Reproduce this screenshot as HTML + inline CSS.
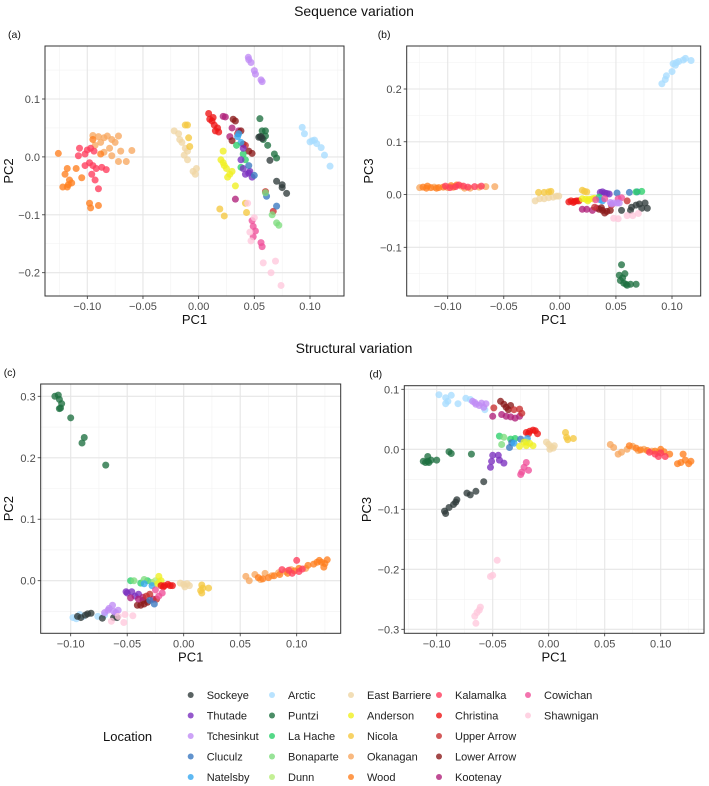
<!DOCTYPE html>
<html><head><meta charset="utf-8">
<style>
body{margin:0;background:#fff;width:709px;height:786px;overflow:hidden;font-family:"Liberation Sans",sans-serif}
svg{display:block}
</style></head>
<body>
<svg id="fig" width="709" height="786" xmlns="http://www.w3.org/2000/svg">
<text x="354" y="16" text-anchor="middle" font-size="14" fill="#111">Sequence variation</text>
<text x="354" y="353" text-anchor="middle" font-size="14" fill="#111">Structural variation</text>
</svg>
<script>
const pops=["Sockeye","Thutade","Tchesinkut","Cluculz","Natelsby","Arctic","Puntzi","La Hache","Bonaparte","Dunn","East Barriere","Anderson","Nicola","Okanagan","Wood","Kalamalka","Christina","Upper Arrow","Lower Arrow","Kootenay","Cowichan","Shawnigan"];
const popColors=["#2f3b3b","#7b2fbf","#c08cf5","#3a78c0","#36a8f0","#a8dcff","#1e7040","#2bcf6a","#7edc7e","#b5ec7a","#efd6a4","#f0f020","#f5c840","#f7a860","#ff7f1f","#ff3c5c","#ee1515","#c83030","#8b1a1a","#b0207a","#f0509a","#ffc8dc"];
const xTicks=[-0.10,-0.05,0.00,0.05,0.10];
const yTicksA=[0.1,0.0,-0.1,-0.2];
const yTicksB=[0.2,0.1,0.0,-0.1];
const yTicksC=[0.3,0.2,0.1,0.0];
const yTicksD=[0.1,0.0,-0.1,-0.2,-0.3];
const pcaA=[
["Tchesinkut",0.0446,0.172],["Tchesinkut",0.047,0.163],["Tchesinkut",0.050,0.149],["Tchesinkut",0.051,0.143],["Tchesinkut",0.056,0.133],["Tchesinkut",0.057,0.130],["Tchesinkut",0.045,0.168],
["Arctic",0.093,0.051],["Arctic",0.095,0.040],["Arctic",0.100,0.026],["Arctic",0.104,0.029],["Arctic",0.106,0.023],["Arctic",0.110,0.016],["Arctic",0.113,0.003],["Arctic",0.118,-0.016],["Arctic",0.102,0.028],
["Okanagan",-0.095,0.037],["Okanagan",-0.090,0.035],["Okanagan",-0.085,0.033],["Okanagan",-0.082,0.036],["Okanagan",-0.078,0.030],["Okanagan",-0.075,0.025],["Okanagan",-0.072,0.036],["Okanagan",-0.088,0.025],["Okanagan",-0.093,0.020],["Okanagan",-0.080,0.015],["Okanagan",-0.070,0.010],["Okanagan",-0.065,-0.008],["Okanagan",-0.060,0.011],["Okanagan",-0.072,-0.008],["Okanagan",-0.085,0.008],["Okanagan",-0.078,0.002],
["Wood",-0.126,0.006],["Wood",-0.118,-0.020],["Wood",-0.120,-0.030],["Wood",-0.116,-0.040],["Wood",-0.117,-0.048],["Wood",-0.122,-0.052],["Wood",-0.118,-0.052],["Wood",-0.114,-0.045],["Wood",-0.110,-0.020],["Wood",-0.105,-0.036],["Wood",-0.098,-0.080],["Wood",-0.097,-0.088],["Wood",-0.090,-0.084],["Wood",-0.088,0.005],["Wood",-0.095,0.030],
["Kalamalka",-0.107,0.015],["Kalamalka",-0.108,0.002],["Kalamalka",-0.100,0.012],["Kalamalka",-0.102,-0.015],["Kalamalka",-0.098,-0.010],["Kalamalka",-0.095,-0.015],["Kalamalka",-0.092,-0.020],["Kalamalka",-0.087,-0.018],["Kalamalka",-0.083,-0.022],["Kalamalka",-0.090,-0.055],["Kalamalka",-0.093,-0.040],["Kalamalka",-0.096,-0.030],["Kalamalka",-0.102,0.005],["Kalamalka",-0.097,0.015],["Kalamalka",-0.094,0.010],
["East Barriere",-0.022,0.045],["East Barriere",-0.018,0.040],["East Barriere",-0.015,0.025],["East Barriere",-0.012,0.015],["East Barriere",-0.010,0.010],["East Barriere",-0.013,0.003],["East Barriere",-0.010,-0.005],["East Barriere",-0.005,-0.025],["East Barriere",-0.003,-0.030],["East Barriere",-0.002,-0.020],["East Barriere",-0.017,0.030],
["Nicola",-0.012,0.055],["Nicola",-0.010,0.055],["Nicola",-0.009,0.033],["Nicola",-0.008,0.018],["Nicola",0.019,-0.090],["Nicola",0.023,-0.102],["Nicola",0.042,-0.080],["Nicola",0.043,-0.096],
["Anderson",0.020,-0.005],["Anderson",0.022,0.010],["Anderson",0.023,-0.015],["Anderson",0.025,-0.020],["Anderson",0.028,-0.030],["Anderson",0.026,-0.035],["Anderson",0.030,-0.025],["Anderson",0.033,-0.050],["Anderson",0.022,-0.010],
["Christina",0.009,0.075],["Christina",0.010,0.065],["Christina",0.012,0.062],["Christina",0.014,0.055],["Christina",0.015,0.045],["Christina",0.017,0.050],["Christina",0.013,0.068],["Christina",0.018,0.043],
["Kootenay",0.022,0.070],["Kootenay",0.024,0.069],["Kootenay",0.028,0.035],["Kootenay",0.033,-0.073],["Kootenay",0.030,0.050],["Kootenay",0.036,0.045],
["Lower Arrow",0.031,0.065],["Lower Arrow",0.033,0.062],["Lower Arrow",0.038,0.045],["Lower Arrow",0.040,0.022],["Lower Arrow",0.045,0.010],["Lower Arrow",0.048,0.006],["Lower Arrow",0.030,0.028],
["Upper Arrow",0.035,0.040],["Upper Arrow",0.042,0.020],["Upper Arrow",0.060,-0.060],["Upper Arrow",0.067,-0.094],
["Natelsby",0.036,0.040],["Natelsby",0.038,0.025],["Natelsby",0.035,0.035],
["La Hache",0.034,0.020],["La Hache",0.040,0.005],["La Hache",0.042,-0.005],["La Hache",0.038,-0.018],
["Thutade",0.040,0.015],["Thutade",0.038,-0.005],["Thutade",0.040,-0.020],["Thutade",0.042,-0.030],["Thutade",0.045,-0.028],["Thutade",0.048,-0.035],["Thutade",0.046,-0.025],
["Cluculz",0.050,-0.032],["Cluculz",0.061,-0.068],["Cluculz",0.070,-0.085],["Cluculz",0.045,-0.015],
["Puntzi",0.055,0.066],["Puntzi",0.057,0.045],["Puntzi",0.060,0.045],["Puntzi",0.058,0.030],["Puntzi",0.062,0.020],["Puntzi",0.068,0.005],["Puntzi",0.070,-0.002],["Puntzi",0.055,0.035],["Puntzi",0.060,0.036],
["Sockeye",0.056,0.035],["Sockeye",0.057,0.032],["Sockeye",0.064,-0.006],["Sockeye",0.070,-0.042],["Sockeye",0.075,-0.048],["Sockeye",0.075,-0.053],["Sockeye",0.079,-0.063],["Sockeye",0.054,0.034],
["Bonaparte",0.066,-0.100],["Bonaparte",0.070,-0.114],["Bonaparte",0.072,-0.118],["Bonaparte",0.060,-0.062],
["Cowichan",0.049,-0.120],["Cowichan",0.051,-0.128],["Cowichan",0.049,-0.138],["Cowichan",0.056,-0.148],["Cowichan",0.057,-0.155],["Cowichan",0.048,-0.110],
["Shawnigan",0.044,-0.080],["Shawnigan",0.046,-0.130],["Shawnigan",0.050,-0.105],["Shawnigan",0.058,-0.183],["Shawnigan",0.069,-0.180],["Shawnigan",0.065,-0.200],["Shawnigan",0.074,-0.222],["Shawnigan",0.047,-0.145]
];
const pcaB=[
["Okanagan",-0.125,0.013],["Okanagan",-0.112,0.014],["Okanagan",-0.100,0.013],["Okanagan",-0.088,0.016],["Okanagan",-0.080,0.012],["Okanagan",-0.072,0.014],["Okanagan",-0.066,0.015],["Okanagan",-0.058,0.015],["Okanagan",-0.085,0.012],
["Wood",-0.122,0.014],["Wood",-0.118,0.016],["Wood",-0.115,0.013],["Wood",-0.108,0.013],["Wood",-0.104,0.014],["Wood",-0.097,0.017],["Wood",-0.092,0.018],["Wood",-0.095,0.014],["Wood",-0.110,0.012],["Wood",-0.119,0.012],
["Kalamalka",-0.102,0.016],["Kalamalka",-0.098,0.013],["Kalamalka",-0.093,0.015],["Kalamalka",-0.090,0.018],["Kalamalka",-0.086,0.016],["Kalamalka",-0.082,0.014],["Kalamalka",-0.076,0.015],["Kalamalka",-0.070,0.016],
["Arctic",0.091,0.210],["Arctic",0.094,0.218],["Arctic",0.095,0.225],["Arctic",0.100,0.233],["Arctic",0.101,0.248],["Arctic",0.104,0.250],["Arctic",0.106,0.252],["Arctic",0.110,0.255],["Arctic",0.112,0.258],["Arctic",0.117,0.254],["Arctic",0.103,0.245],
["Puntzi",0.055,-0.133],["Puntzi",0.053,-0.153],["Puntzi",0.056,-0.158],["Puntzi",0.058,-0.150],["Puntzi",0.054,-0.163],["Puntzi",0.057,-0.168],["Puntzi",0.059,-0.170],["Puntzi",0.063,-0.170],["Puntzi",0.068,-0.170],["Puntzi",0.060,-0.172],
["East Barriere",-0.022,-0.012],["East Barriere",-0.018,-0.008],["East Barriere",-0.014,-0.008],["East Barriere",-0.010,-0.006],["East Barriere",-0.006,-0.005],["East Barriere",-0.003,-0.003],["East Barriere",-0.001,-0.003],
["Nicola",-0.019,0.004],["Nicola",-0.014,0.004],["Nicola",-0.010,0.005],["Nicola",-0.008,0.006],["Nicola",0.020,0.008],["Nicola",0.022,0.006],["Nicola",0.024,0.005],
["Christina",0.008,-0.014],["Christina",0.010,-0.012],["Christina",0.013,-0.013],["Christina",0.015,-0.012],["Christina",0.017,-0.012],["Christina",0.012,-0.015],
["Anderson",0.020,-0.008],["Anderson",0.023,-0.009],["Anderson",0.026,-0.009],["Anderson",0.029,-0.008],["Anderson",0.031,-0.007],["Anderson",0.025,-0.012],
["Kootenay",0.020,-0.028],["Kootenay",0.024,-0.028],["Kootenay",0.029,-0.030],["Kootenay",0.033,-0.026],
["Lower Arrow",0.035,-0.028],["Lower Arrow",0.038,-0.030],["Lower Arrow",0.042,-0.032],["Lower Arrow",0.045,-0.030],["Lower Arrow",0.040,-0.035],["Lower Arrow",0.037,-0.025],
["Upper Arrow",0.031,-0.024],["Upper Arrow",0.046,-0.020],["Upper Arrow",0.060,-0.012],
["Thutade",0.036,0.004],["Thutade",0.038,0.005],["Thutade",0.040,0.003],["Thutade",0.042,0.002],["Thutade",0.044,0.001],
["Cluculz",0.051,0.003],["Cluculz",0.062,0.004],["Cluculz",0.069,0.005],
["La Hache",0.035,-0.005],["La Hache",0.068,0.005],["La Hache",0.073,0.006],
["Natelsby",0.038,-0.012],["Natelsby",0.036,-0.010],
["Cowichan",0.032,-0.010],["Cowichan",0.040,-0.008],["Cowichan",0.052,-0.008],["Cowichan",0.055,-0.006],
["Tchesinkut",0.045,-0.015],["Tchesinkut",0.048,-0.016],["Tchesinkut",0.051,-0.016],["Tchesinkut",0.053,-0.016],["Tchesinkut",0.046,-0.018],
["Sockeye",0.055,-0.030],["Sockeye",0.063,-0.030],["Sockeye",0.064,-0.024],["Sockeye",0.068,-0.020],["Sockeye",0.071,-0.018],["Sockeye",0.076,-0.016],["Sockeye",0.078,-0.026],["Sockeye",0.073,-0.026],
["Shawnigan",0.048,-0.045],["Shawnigan",0.052,-0.046],["Shawnigan",0.060,-0.040],["Shawnigan",0.065,-0.040],["Shawnigan",0.070,-0.036]
];
const pcaC=[
["Puntzi",-0.114,0.300],["Puntzi",-0.111,0.302],["Puntzi",-0.110,0.295],["Puntzi",-0.108,0.288],["Puntzi",-0.109,0.281],["Puntzi",-0.110,0.280],["Puntzi",-0.100,0.265],["Puntzi",-0.088,0.233],["Puntzi",-0.090,0.224],["Puntzi",-0.069,0.188],
["Arctic",-0.098,-0.060],["Arctic",-0.092,-0.055],["Arctic",-0.089,-0.058],["Arctic",-0.076,-0.058],["Arctic",-0.070,-0.056],["Arctic",-0.095,-0.062],
["Sockeye",-0.094,-0.058],["Sockeye",-0.091,-0.060],["Sockeye",-0.085,-0.054],["Sockeye",-0.082,-0.053],["Sockeye",-0.072,-0.061],["Sockeye",-0.062,-0.060],["Sockeye",-0.059,-0.060],["Sockeye",-0.087,-0.056],
["Tchesinkut",-0.070,-0.052],["Tchesinkut",-0.066,-0.045],["Tchesinkut",-0.063,-0.040],["Tchesinkut",-0.062,-0.050],["Tchesinkut",-0.058,-0.048],["Tchesinkut",-0.060,-0.052],["Tchesinkut",-0.067,-0.048],
["Shawnigan",-0.064,-0.066],["Shawnigan",-0.058,-0.058],["Shawnigan",-0.053,-0.068],["Shawnigan",-0.052,-0.055],["Shawnigan",-0.045,-0.057],
["Thutade",-0.051,-0.018],["Thutade",-0.050,-0.020],["Thutade",-0.046,-0.018],["Thutade",-0.043,-0.025],["Thutade",-0.040,-0.022],
["Lower Arrow",-0.041,-0.040],["Lower Arrow",-0.038,-0.040],["Lower Arrow",-0.035,-0.038],["Lower Arrow",-0.032,-0.035],["Lower Arrow",-0.036,-0.032],
["Kootenay",-0.047,-0.028],["Kootenay",-0.040,-0.030],["Kootenay",-0.036,-0.027],["Kootenay",-0.027,-0.030],
["Upper Arrow",-0.033,-0.025],["Upper Arrow",-0.030,-0.022],["Upper Arrow",-0.024,-0.030],
["Cluculz",-0.026,-0.038],["Cluculz",-0.030,-0.032],
["La Hache",-0.047,0.000],["La Hache",-0.038,-0.004],["La Hache",-0.032,0.000],
["Bonaparte",-0.044,0.000],["Bonaparte",-0.035,0.002],["Bonaparte",-0.028,-0.003],
["Dunn",-0.022,-0.002],["Dunn",-0.025,0.000],
["Natelsby",-0.035,-0.005],["Natelsby",-0.028,-0.008],
["Anderson",-0.022,0.007],["Anderson",-0.020,0.000],["Anderson",-0.023,-0.005],
["Christina",-0.020,-0.008],["Christina",-0.017,-0.008],["Christina",-0.014,-0.006],["Christina",-0.012,-0.008],["Christina",-0.018,-0.010],["Christina",-0.010,-0.008],
["Cowichan",-0.022,-0.025],["Cowichan",-0.019,-0.020],["Cowichan",-0.025,-0.015],
["East Barriere",-0.003,-0.004],["East Barriere",0.000,-0.006],["East Barriere",0.003,-0.005],["East Barriere",0.005,-0.008],["East Barriere",0.001,-0.010],
["Nicola",0.016,-0.007],["Nicola",0.017,-0.012],["Nicola",0.016,-0.020],["Nicola",0.022,-0.012],["Nicola",0.015,-0.016],
["Okanagan",0.055,0.007],["Okanagan",0.058,0.000],["Okanagan",0.063,0.010],["Okanagan",0.068,0.002],["Okanagan",0.072,0.012],["Okanagan",0.078,0.008],["Okanagan",0.084,0.013],["Okanagan",0.090,0.015],["Okanagan",0.095,0.018],["Okanagan",0.108,0.020],
["Wood",0.066,0.005],["Wood",0.070,0.003],["Wood",0.075,0.005],["Wood",0.080,0.008],["Wood",0.085,0.010],["Wood",0.092,0.012],["Wood",0.098,0.016],["Wood",0.102,0.020],["Wood",0.110,0.025],["Wood",0.115,0.027],["Wood",0.120,0.033],["Wood",0.122,0.030],["Wood",0.125,0.028],["Wood",0.127,0.034],["Wood",0.124,0.022],["Wood",0.118,0.030],
["Kalamalka",0.087,0.018],["Kalamalka",0.093,0.017],["Kalamalka",0.100,0.033],["Kalamalka",0.102,0.015],["Kalamalka",0.105,0.019],["Kalamalka",0.096,0.012]
];
const pcaD=[
["Arctic",-0.098,0.091],["Arctic",-0.092,0.086],["Arctic",-0.090,0.080],["Arctic",-0.087,0.090],["Arctic",-0.081,0.076],["Arctic",-0.074,0.085],["Arctic",-0.070,0.083],["Arctic",-0.057,0.066],["Arctic",-0.092,0.076],
["Tchesinkut",-0.068,0.080],["Tchesinkut",-0.065,0.075],["Tchesinkut",-0.062,0.073],["Tchesinkut",-0.060,0.077],["Tchesinkut",-0.056,0.076],["Tchesinkut",-0.058,0.070],["Tchesinkut",-0.066,0.078],
["Lower Arrow",-0.043,0.080],["Lower Arrow",-0.040,0.075],["Lower Arrow",-0.038,0.070],["Lower Arrow",-0.034,0.073],["Lower Arrow",-0.036,0.066],
["Kootenay",-0.050,0.055],["Kootenay",-0.042,0.058],["Kootenay",-0.038,0.055],["Kootenay",-0.034,0.054],["Kootenay",-0.026,0.055],["Kootenay",-0.030,0.052],
["Upper Arrow",-0.049,0.069],["Upper Arrow",-0.031,0.066],["Upper Arrow",-0.026,0.067],["Upper Arrow",-0.024,0.060],
["Christina",-0.020,0.028],["Christina",-0.017,0.030],["Christina",-0.014,0.032],["Christina",-0.012,0.031],["Christina",-0.010,0.026],["Christina",-0.018,0.026],
["La Hache",-0.044,0.022],["La Hache",-0.034,0.017],["La Hache",-0.030,0.018],
["Bonaparte",-0.040,0.020],["Bonaparte",-0.042,0.008],
["Cluculz",-0.033,0.011],["Cluculz",-0.035,0.003],["Cluculz",-0.025,0.017],
["Natelsby",-0.031,0.010],["Natelsby",-0.019,0.018],
["Dunn",-0.020,0.012],
["Anderson",-0.026,0.005],["Anderson",-0.020,0.006],["Anderson",-0.017,0.010],["Anderson",-0.014,0.006],["Anderson",-0.022,0.012],
["Thutade",-0.050,-0.010],["Thutade",-0.051,-0.020],["Thutade",-0.052,-0.030],["Thutade",-0.045,-0.010],["Thutade",-0.044,-0.018],["Thutade",-0.040,-0.023],
["Cowichan",-0.025,-0.042],["Cowichan",-0.022,-0.030],["Cowichan",-0.020,-0.022],["Cowichan",-0.018,-0.035],["Cowichan",-0.024,-0.038],
["East Barriere",-0.002,0.012],["East Barriere",0.000,0.008],["East Barriere",0.002,0.004],["East Barriere",0.004,0.002],["East Barriere",0.001,0.000],["East Barriere",0.005,0.006],
["Nicola",0.015,0.028],["Nicola",0.016,0.020],["Nicola",0.017,0.016],["Nicola",0.022,0.018],
["Okanagan",0.055,0.008],["Okanagan",0.058,0.003],["Okanagan",0.065,-0.005],["Okanagan",0.070,0.000],["Okanagan",0.075,0.005],["Okanagan",0.080,-0.002],["Okanagan",0.085,0.000],["Okanagan",0.092,-0.003],["Okanagan",0.098,-0.005],["Okanagan",0.062,-0.008],
["Wood",0.072,0.006],["Wood",0.078,0.002],["Wood",0.082,-0.001],["Wood",0.088,-0.002],["Wood",0.095,-0.003],["Wood",0.100,0.000],["Wood",0.103,-0.004],["Wood",0.108,-0.008],["Wood",0.118,-0.022],["Wood",0.122,-0.018],["Wood",0.125,-0.024],["Wood",0.127,-0.020],["Wood",0.120,-0.008],["Wood",0.115,-0.024],
["Kalamalka",0.090,-0.005],["Kalamalka",0.095,-0.008],["Kalamalka",0.098,-0.012],["Kalamalka",0.104,-0.012],["Kalamalka",0.100,-0.006],
["Puntzi",-0.112,-0.020],["Puntzi",-0.110,-0.022],["Puntzi",-0.108,-0.012],["Puntzi",-0.107,-0.022],["Puntzi",-0.105,-0.018],["Puntzi",-0.100,-0.018],["Puntzi",-0.089,-0.004],["Puntzi",-0.087,-0.007],["Puntzi",-0.069,-0.008],["Puntzi",-0.108,-0.020],
["Sockeye",-0.093,-0.103],["Sockeye",-0.092,-0.107],["Sockeye",-0.089,-0.097],["Sockeye",-0.085,-0.092],["Sockeye",-0.083,-0.088],["Sockeye",-0.082,-0.084],["Sockeye",-0.073,-0.073],["Sockeye",-0.070,-0.076],["Sockeye",-0.065,-0.070],["Sockeye",-0.058,-0.054],
["Shawnigan",-0.046,-0.185],["Shawnigan",-0.052,-0.212],["Shawnigan",-0.050,-0.210],["Shawnigan",-0.061,-0.263],["Shawnigan",-0.064,-0.272],["Shawnigan",-0.066,-0.278],["Shawnigan",-0.065,-0.290],["Shawnigan",-0.062,-0.268]
];

const NS="http://www.w3.org/2000/svg";
const svg=document.getElementById('fig');
function mk(tag,attrs,parent){const e=document.createElementNS(NS,tag);for(const k in attrs)e.setAttribute(k,attrs[k]);(parent||svg).appendChild(e);return e;}
function fmt(v,d){let s=v.toFixed(d);if(s.startsWith('-0')&&parseFloat(s)===0)s=s.slice(1);return s.replace('-','\u2212');}

// panel geometry: box and two calibration ticks per axis
const panels=[
 {id:'a',label:'(a)',box:[45,344,46,296],xc:[-0.1,87.3,0.1,310],yc:[0.1,99,-0.2,272.7],yT:yTicksA,yl:'PC2',data:pcaA,top:0},
 {id:'b',label:'(b)',box:[406.7,700.7,46,296],xc:[-0.1,447.7,0.1,672],yc:[0.2,89,-0.1,247.3],yT:yTicksB,yl:'PC3',data:pcaB,top:0},
 {id:'c',label:'(c)',box:[40.7,340.7,384,633.3],xc:[-0.1,70.7,0.1,296.7],yc:[0.3,396.3,0.0,580.7],yT:yTicksC,yl:'PC2',data:pcaC,top:1},
 {id:'d',label:'(d)',box:[404.3,704,385.7,633.3],xc:[-0.1,436.7,0.1,660.7],yc:[0.1,389.3,-0.3,629.3],yT:yTicksD,yl:'PC3',data:pcaD,top:1}
];
panels.forEach(p=>{
 const [x0,x1,y0,y1]=p.box;
 const sx=v=>p.xc[1]+(v-p.xc[0])*(p.xc[3]-p.xc[1])/(p.xc[2]-p.xc[0]);
 const sy=v=>p.yc[1]+(v-p.yc[0])*(p.yc[3]-p.yc[1])/(p.yc[2]-p.yc[0]);
 const g=mk('g',{});
 
 
 // minor grid
 const xstep=xTicks[1]-xTicks[0], ystep=p.yT[0]-p.yT[1];
 for(let v=xTicks[0]-xstep/2;v<=xTicks[xTicks.length-1]+xstep;v+=xstep){const X=sx(v);if(X>x0&&X<x1)mk('line',{x1:X,x2:X,y1:y0,y2:y1,stroke:'#f2f2f2','stroke-width':0.6},g);}
 for(let v=p.yT[p.yT.length-1]-ystep/2;v<=p.yT[0]+ystep;v+=ystep){const Y=sy(v);if(Y>y0&&Y<y1)mk('line',{x1:x0,x2:x1,y1:Y,y2:Y,stroke:'#f2f2f2','stroke-width':0.6},g);}
 xTicks.forEach(v=>{const X=sx(v);mk('line',{x1:X,x2:X,y1:y0,y2:y1,stroke:'#e6e6e6','stroke-width':1.1},g);
  mk('line',{x1:X,x2:X,y1:y1,y2:y1+3,stroke:'#333','stroke-width':0.8},g);
  const t=mk('text',{x:X,y:y1+14,'text-anchor':'middle','font-size':11,fill:'#4d4d4d'},g);t.textContent=fmt(v,2);
  
  });
 p.yT.forEach(v=>{const Y=sy(v);mk('line',{x1:x0,x2:x1,y1:Y,y2:Y,stroke:'#e6e6e6','stroke-width':1.1},g);
  mk('line',{x1:x0-3,x2:x0,y1:Y,y2:Y,stroke:'#333','stroke-width':0.8},g);
  const t=mk('text',{x:x0-5,y:Y+4,'text-anchor':'end','font-size':11,fill:'#4d4d4d'},g);t.textContent=fmt(v,1);
  
  });
 p.data.forEach(d=>{const i=pops.indexOf(d[0]);
  const c=mk('circle',{cx:sx(d[1]),cy:sy(d[2]),r:3.5,fill:popColors[i],'fill-opacity':0.78},g);
  
  });
 mk('rect',{x:x0,y:y0,width:x1-x0,height:y1-y0,fill:'none',stroke:'#333','stroke-width':1},g);
 const xl=mk('text',{x:(x0+x1)/2,y:y1+28,'text-anchor':'middle','font-size':13,fill:'#111'},g);xl.textContent='PC1';
 
 
 const yx=p.id==='a'||p.id==='c'?13:(p.id==='b'?373:371);
 const yl=mk('text',{x:yx,y:(y0+y1)/2,'text-anchor':'middle','font-size':13,fill:'#111',transform:`rotate(-90 ${yx} ${(y0+y1)/2})`},g);yl.textContent=p.yl;
 
 
 const lb=mk('text',{x:x0-37+(p.id==='b'?8:0)+(p.id==='d'?2:0),y:y0-8,'font-size':10.5,fill:'#111'},g);lb.textContent=p.label;
 
 
});
// legend
const lg=mk('g',{});


const lt=mk('text',{x:103,y:741,'font-size':13,fill:'#111'},lg);lt.textContent='Location';


const colDot=[190.7,272,351,439,528];
pops.forEach((n,i)=>{const col=Math.floor(i/5),row=i%5;const y=695+row*20.5;
 const e=mk('g',{},lg);
 
 
 mk('circle',{cx:colDot[col],cy:y,r:3,fill:popColors[i],'fill-opacity':0.8},e);
 const t=mk('text',{x:colDot[col]+16,y:y+4,'font-size':11,fill:'#222'},e);t.textContent=n;});
</script>
</body></html>
